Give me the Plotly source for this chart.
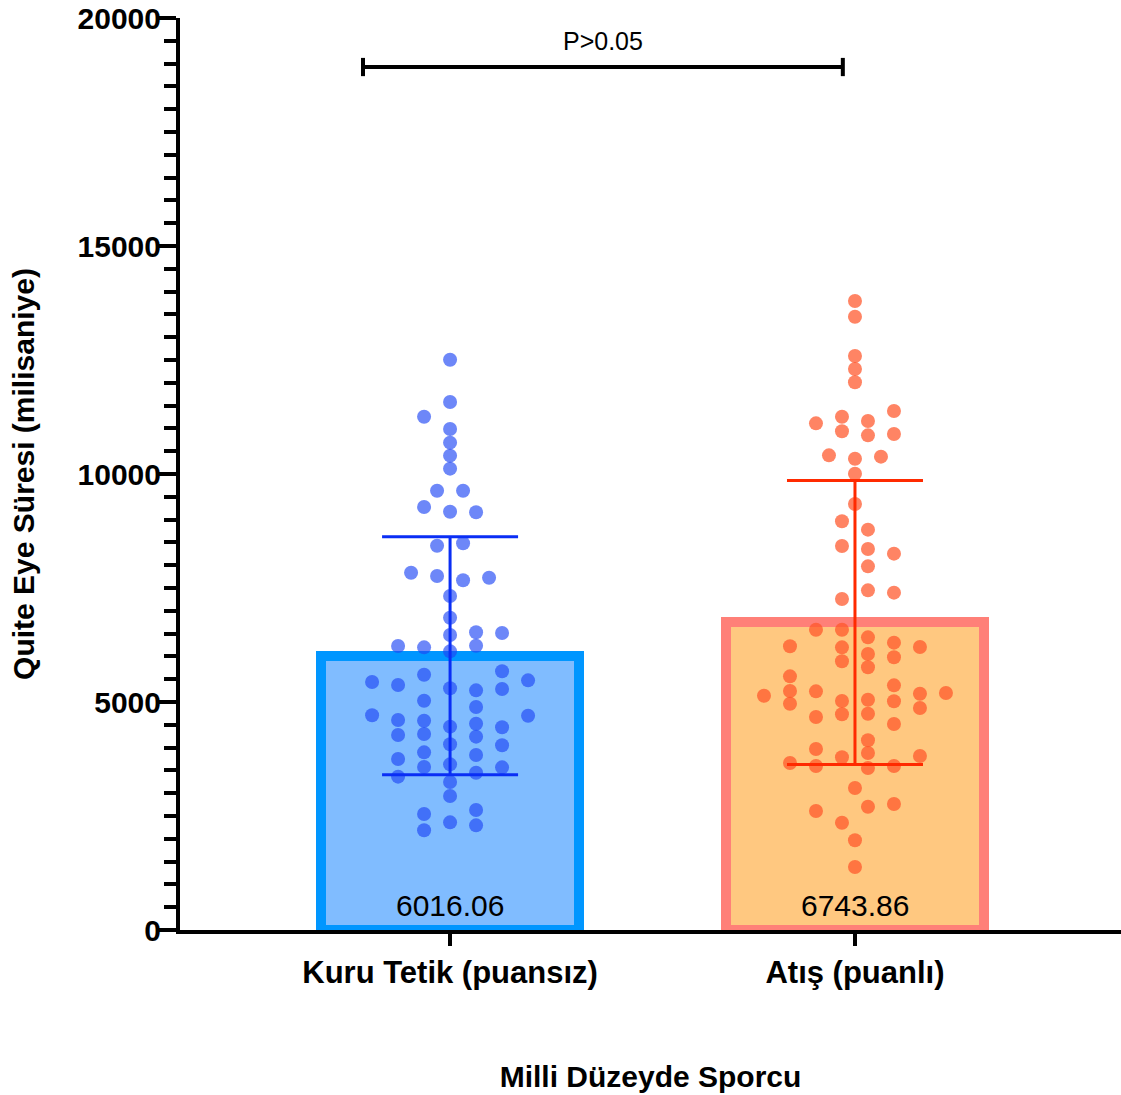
import plotly.graph_objects as go

# ---------------- data ----------------
categories = ["Kuru Tetik (puansız)", "Atış (puanlı)"]
bar_means = [6016.06, 6743.86]
bar_sds = [2610, 3114]

kuru_values = [12507, 11579, 11257, 10987, 10687, 10402, 10117, 9634, 9634, 9276,
               9173, 9160, 8428, 8480, 7836, 7763, 7669, 7726, 7325, 6849,
               6469, 6528, 6513, 6228, 6199, 6111, 6235, 5439, 5373, 5599,
               5300, 5256, 5673, 5285, 5475, 5029, 4890, 4708, 4700, 4605,
               4590, 4459, 4524, 4445, 4276, 4298, 4072, 4240, 4050, 3896,
               3838, 3750, 3575, 3633, 3450, 3567, 3363, 3246, 2939, 2544,
               2632, 2361, 2295, 2186]
kuru_slots = [0, 0, -1, 0, 0, 0, 0, -0.5, 0.5, -1,
              0, 1, -0.5, 0.5, -1.5, -0.5, 0.5, 1.5, 0, 0,
              0, 1, 2, -2, -1, 0, 1, -3, -2, -1,
              0, 1, 2, 2, 3, -1, 1, -3, 3, -2,
              -1, 0, 1, 2, -2, -1, 0, 1, 2, -1,
              1, -2, -1, 0, 1, 2, -2, 0, 0, -1,
              1, 0, 1, -1]

atis_values = [13794, 13450, 12588, 12303, 12011, 11111, 11257, 10936, 11162, 10848,
               11382, 10877, 10409, 10336, 10380, 10007, 9342, 8965, 8780, 8421,
               8355, 8253, 7975, 7449, 7398, 7259, 6586, 6586, 6418, 6221,
               6199, 6053, 6301, 5980, 6206, 5892, 5761, 5563, 5138, 5241,
               4963, 5234, 5022, 4730, 4671, 5050, 4743, 5365, 5015, 4518,
               5182, 4868, 5197, 4160, 3882, 3969, 3787, 3816, 3662, 3596,
               3553, 3596, 3114, 2610, 2704, 2763, 2353, 1967, 1382]
atis_slots = [0, 0, 0, 0, 0, -1.5, -0.5, -0.5, 0.5, 0.5,
              1.5, 1.5, -1, 0, 1, 0, 0, -0.5, 0.5, -0.5,
              0.5, 1.5, 0.5, 0.5, 1.5, -0.5, -1.5, -0.5, 0.5, -2.5,
              -0.5, 0.5, 1.5, 1.5, 2.5, -0.5, 0.5, -2.5, -3.5, -2.5,
              -2.5, -1.5, -0.5, -0.5, -1.5, 0.5, 0.5, 1.5, 1.5, 1.5,
              2.5, 2.5, 3.5, 0.5, 0.5, -1.5, -0.5, 2.5, -2.5, -1.5,
              0.5, 1.5, 0, -1.5, 0.5, 1.5, -0.5, 0, 0]

y_ticks = [0, 5000, 10000, 15000, 20000]
p_text = "P>0.05"
x_title = "Milli Düzeyde Sporcu"
y_title = "Quite Eye Süresi (milisaniye)"

# ---------------- style ----------------
FONT = "Liberation Sans, Arial, sans-serif"
bar_fill = ["#80BCFF", "#FFC880"]
bar_edge = ["#0096FF", "#FF8078"]
dot_col = ["rgba(30,70,245,0.65)", "rgba(255,85,40,0.72)"]
err_col = ["#0A2EF5", "#FF2A00"]
SLOT = 0.0642

fig = go.Figure()

xpos = list(range(len(categories)))
fig.add_trace(go.Bar(
    x=xpos, y=bar_means, width=0.637,
    marker=dict(color=bar_fill, line=dict(color=bar_edge, width=10)),
    showlegend=False, hoverinfo="skip"))

for i, (vals, slots) in enumerate([(kuru_values, kuru_slots), (atis_values, atis_slots)]):
    fig.add_trace(go.Scatter(
        x=[i + s * SLOT for s in slots], y=vals, mode="markers",
        marker=dict(size=14, color=dot_col[i], line=dict(width=0)),
        showlegend=False, hoverinfo="skip"))

for i in xpos:
    fig.add_trace(go.Scatter(
        x=[i], y=[bar_means[i]], mode="markers",
        marker=dict(size=1, color="rgba(0,0,0,0)"),
        error_y=dict(type="data", array=[bar_sds[i]], color=err_col[i],
                     thickness=3, width=68),
        showlegend=False, hoverinfo="skip"))

# bar value labels
for i in xpos:
    fig.add_annotation(x=i, y=0, yanchor="bottom", yshift=6,
                       text=f"{bar_means[i]:.2f}", showarrow=False,
                       font=dict(family=FONT, size=30, color="black"))

# significance bracket
bx0, bx1, by = -0.215, 0.970, 18925
fig.add_shape(type="line", x0=bx0, x1=bx1, y0=by, y1=by,
              line=dict(color="black", width=4))
for bx in (bx0, bx1):
    fig.add_shape(type="line", x0=bx, x1=bx, y0=by - 200, y1=by + 200,
                  line=dict(color="black", width=4))
fig.add_annotation(x=(bx0 + bx1) / 2, y=by, yanchor="bottom", yshift=10,
                   text=p_text, showarrow=False,
                   font=dict(family=FONT, size=25, color="black"))

fig.update_layout(
    width=1121, height=1095,
    margin=dict(l=180, r=0, t=18, b=165),
    paper_bgcolor="white", plot_bgcolor="white",
    font=dict(family=FONT, color="black"),
    bargap=0,
)
fig.update_xaxes(
    range=[-0.667, 1.657], tickvals=xpos, ticktext=[f"<b>{c}</b>" for c in categories],
    showline=True, linecolor="black", linewidth=4,
    ticks="outside", ticklen=12, tickwidth=4, tickcolor="black",
    tickfont=dict(family=FONT, size=31, color="black"),
    showgrid=False, zeroline=False,
    title=dict(text=f"<b>{x_title}</b>", font=dict(family=FONT, size=30, color="black"), standoff=78),
)
fig.update_yaxes(
    range=[0, 20000], tickvals=y_ticks, ticktext=[f"<b>{t}</b>" for t in y_ticks],
    showline=True, linecolor="black", linewidth=4,
    ticks="outside", ticklen=17, tickwidth=4, tickcolor="black",
    ticklabelstandoff=-8,
    minor=dict(dtick=500, ticks="outside", ticklen=12, tickwidth=4, tickcolor="black", showgrid=False),
    tickfont=dict(family=FONT, size=30, color="black"),
    showgrid=False, zeroline=False,
    title=dict(text=f"<b>{y_title}</b>", font=dict(family=FONT, size=30, color="black"), standoff=35),
)

fig.write_html("out.html")
